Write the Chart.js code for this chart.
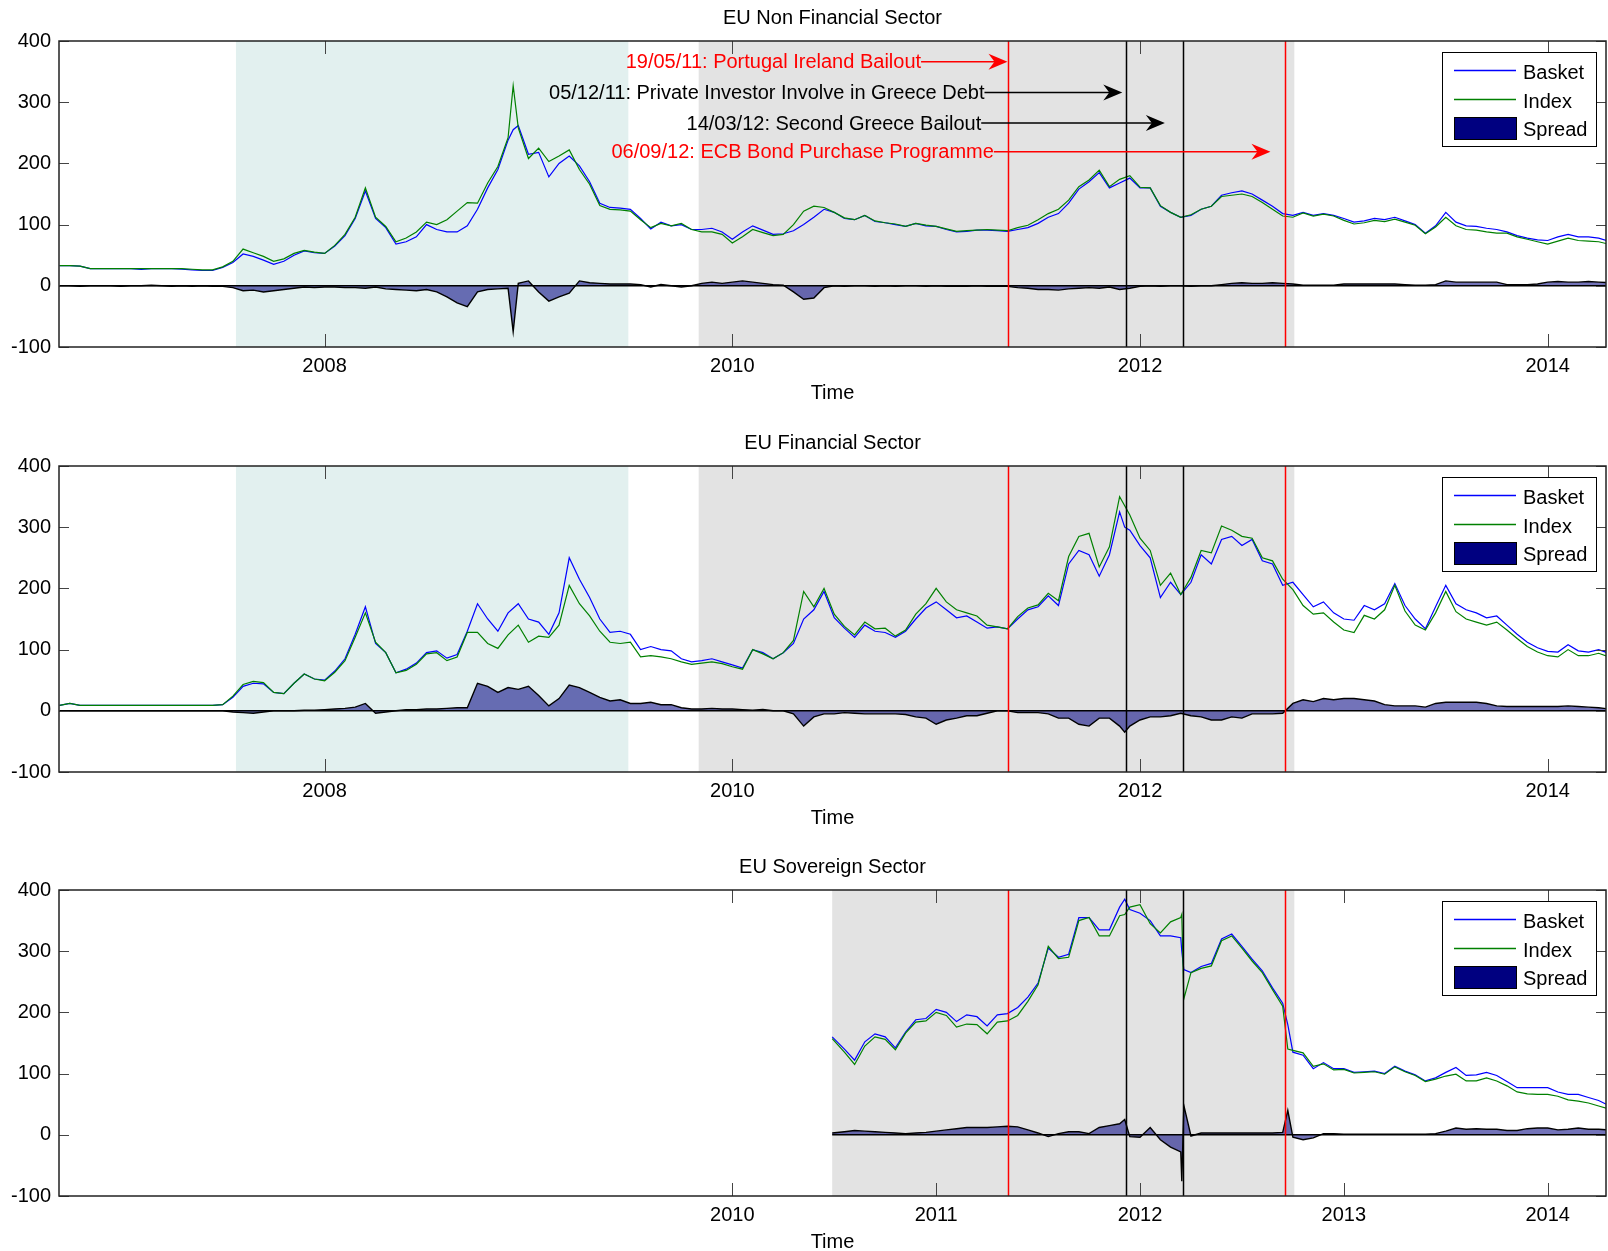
<!DOCTYPE html>
<html>
<head>
<meta charset="utf-8">
<script src="https://cdn.jsdelivr.net/npm/chart.js@4.4.1/dist/chart.umd.min.js"></script>
<style>
html,body{margin:0;padding:0;background:#fff;overflow:hidden;}
body{width:1608px;height:1251px;position:relative;}
.panel{position:absolute;left:0;width:1608px;height:414px;}
</style>
</head>
<body>
<div class="panel" style="top:0"><canvas id="p1" width="1608" height="414"></canvas></div>
<div class="panel" style="top:425px"><canvas id="p2" width="1608" height="414"></canvas></div>
<div class="panel" style="top:849px"><canvas id="p3" width="1608" height="414"></canvas></div>
<script>
// axis settings (decimal years)
var xMin = 2006.697, xMax = 2014.286;
var yTicks = [-100, 0, 100, 200, 300, 400];
var xTicksWide = [2008, 2010, 2012, 2014];
var xTicksSov = [2010, 2011, 2012, 2013, 2014];

// shaded periods and event dates
var crisisPeriod = [2007.565, 2009.49];
var euroPeriod = [2009.835, 2012.757];
var euroPeriodSov = [2010.49, 2012.757];
var eventDates = [2011.35, 2011.93, 2012.21, 2012.71];

// annotations (panel 1)
var noteText = ["19/05/11: Portugal Ireland Bailout", "05/12/11: Private Investor Involve in Greece Debt", "14/03/12: Second Greece Bailout", "06/09/12: ECB Bond Purchase Programme"];
var noteLevel = [366, 316, 266, 219];
var noteTextEnd = [2010.926, 2011.237, 2011.221, 2011.283];
var noteTip = [2011.35, 2011.913, 2012.122, 2012.64];

// ---- EU Non Financial Sector ----
var nfTime = [2006.70,2006.75,2006.80,2006.85,2006.90,2006.95,
2007.00,2007.05,2007.10,2007.15,2007.20,2007.25,2007.30,2007.35,2007.40,2007.45,2007.50,2007.55,2007.60,2007.65,2007.70,2007.75,2007.80,2007.85,2007.90,2007.95,
2008.00,2008.05,2008.10,2008.15,2008.20,2008.25,2008.30,2008.35,2008.40,2008.45,2008.50,2008.55,2008.60,2008.65,2008.70,2008.75,2008.80,2008.85,2008.90,2008.925,2008.95,
2009.00,2009.05,2009.10,2009.15,2009.20,2009.25,2009.30,2009.35,2009.40,2009.45,2009.50,2009.55,2009.60,2009.65,2009.70,2009.75,2009.80,2009.85,2009.90,2009.95,
2010.00,2010.05,2010.10,2010.15,2010.20,2010.25,2010.30,2010.35,2010.40,2010.45,2010.50,2010.55,2010.60,2010.65,2010.70,2010.75,2010.80,2010.85,2010.90,2010.95,
2011.00,2011.05,2011.10,2011.15,2011.20,2011.25,2011.30,2011.35,2011.40,2011.45,2011.50,2011.55,2011.60,2011.65,2011.70,2011.75,2011.80,2011.85,2011.90,2011.95,
2012.00,2012.05,2012.10,2012.15,2012.20,2012.25,2012.30,2012.35,2012.40,2012.45,2012.50,2012.55,2012.60,2012.65,2012.70,2012.75,2012.80,2012.85,2012.90,2012.95,
2013.00,2013.05,2013.10,2013.15,2013.20,2013.25,2013.30,2013.35,2013.40,2013.45,2013.50,2013.55,2013.60,2013.65,2013.70,2013.75,2013.80,2013.85,2013.90,2013.95,
2014.00,2014.05,2014.10,2014.15,2014.20,2014.25,2014.30];
var nfBasket = [33,33,32,28,28,28,
28,28,27,28,28,28,27,26,25,25,30,38,52,48,42,35,40,50,57,54,
53,65,82,110,155,110,95,68,72,80,100,92,88,88,98,125,160,190,238,255,262,
215,218,178,200,212,196,170,135,128,127,125,110,93,104,98,100,92,92,94,88,
76,88,98,91,84,85,90,100,112,125,120,110,108,115,105,103,100,97,102,98,
97,92,88,89,91,91,90,89,92,95,102,112,118,135,158,170,185,160,168,176,
160,160,130,120,112,115,125,130,148,152,155,150,140,130,118,115,120,115,118,115,
110,104,106,110,108,112,106,100,86,98,120,104,98,97,94,92,88,82,78,75,
74,80,84,80,80,78,73];
var nfIndex = [33,33,32,28,28,28,
28,28,28,28,28,28,28,27,26,26,31,40,60,54,48,40,44,53,58,55,
53,66,84,112,160,112,97,72,78,88,104,100,108,122,136,135,168,195,242,327,258,
208,225,203,212,222,190,166,131,125,124,122,108,95,102,98,102,92,88,88,84,
70,80,92,87,82,84,100,122,130,128,120,111,108,115,106,103,101,97,102,99,
97,93,89,90,91,92,91,90,95,99,108,118,125,140,162,173,189,162,174,180,
161,160,131,120,112,116,125,130,146,148,150,146,136,125,114,112,119,114,117,114,
107,101,103,107,105,109,104,99,85,96,112,98,92,91,88,86,86,80,76,72,
68,73,78,74,73,72,68];
var nfSpread = [0,0,-1,0,0,0,
-1,0,0,1,0,-1,0,-1,0,-1,-1,-3,-8,-7,-10,-8,-6,-4,-2,-3,
-2,-2,-3,-3,-4,-2,-5,-6,-7,-8,-6,-10,-18,-28,-34,-10,-6,-5,-4,-75,4,
8,-10,-25,-18,-12,8,5,4,3,3,3,2,-2,2,0,-2,0,4,6,4,
6,8,6,4,2,1,-10,-22,-20,-3,0,-1,0,0,-1,0,-1,0,0,-1,
0,-1,-1,-1,0,-1,-1,-1,-3,-4,-6,-6,-7,-5,-4,-3,-4,-2,-6,-4,
-1,0,-1,0,0,-1,0,0,2,4,5,4,4,5,4,3,1,1,1,1,
3,3,3,3,3,3,2,1,1,2,8,6,6,6,6,6,2,2,2,3,
6,7,6,6,7,6,5];

// ---- EU Financial Sector ----
var finTime = [2006.70,2006.75,2006.80,2006.85,2006.90,2006.95,
2007.00,2007.05,2007.10,2007.15,2007.20,2007.25,2007.30,2007.35,2007.40,2007.45,2007.50,2007.55,2007.60,2007.65,2007.70,2007.75,2007.80,2007.85,2007.90,2007.95,
2008.00,2008.05,2008.10,2008.15,2008.20,2008.25,2008.30,2008.35,2008.40,2008.45,2008.50,2008.55,2008.60,2008.65,2008.70,2008.75,2008.80,2008.85,2008.90,2008.95,
2009.00,2009.05,2009.10,2009.15,2009.20,2009.25,2009.30,2009.35,2009.40,2009.45,2009.50,2009.55,2009.60,2009.65,2009.70,2009.75,2009.80,2009.85,2009.90,2009.95,
2010.00,2010.05,2010.10,2010.15,2010.20,2010.25,2010.30,2010.35,2010.40,2010.45,2010.50,2010.55,2010.60,2010.65,2010.70,2010.75,2010.80,2010.85,2010.90,2010.95,
2011.00,2011.05,2011.10,2011.15,2011.20,2011.25,2011.30,2011.35,2011.40,2011.45,2011.50,2011.55,2011.60,2011.65,2011.70,2011.75,2011.80,2011.85,2011.90,2011.925,2011.95,
2012.00,2012.05,2012.10,2012.15,2012.20,2012.25,2012.30,2012.35,2012.40,2012.45,2012.50,2012.55,2012.60,2012.65,2012.70,2012.75,2012.80,2012.85,2012.90,2012.95,
2013.00,2013.05,2013.10,2013.15,2013.20,2013.25,2013.30,2013.35,2013.40,2013.45,2013.50,2013.55,2013.60,2013.65,2013.70,2013.75,2013.80,2013.85,2013.90,2013.95,
2014.00,2014.05,2014.10,2014.15,2014.20,2014.25,2014.30];
var finBasket = [9,12,9,9,9,9,
9,9,9,9,9,9,9,9,9,9,10,22,40,45,44,30,28,45,60,52,
50,65,85,125,170,110,95,62,68,78,95,98,86,92,130,175,150,130,160,175,
150,145,125,160,250,215,185,150,128,130,125,100,105,100,98,85,80,82,85,80,
75,70,100,95,85,95,110,150,165,195,152,135,120,140,130,128,120,130,150,168,
178,165,152,155,145,135,137,134,150,165,170,188,172,240,262,255,220,255,325,300,295,
270,250,185,210,190,210,255,240,280,285,270,280,245,240,205,210,190,170,178,160,
150,148,172,165,175,208,172,150,134,170,205,175,165,160,152,155,140,125,112,103,
97,96,108,98,96,100,94];
var finIndex = [9,12,9,9,9,9,
9,9,9,9,9,9,9,9,9,9,10,24,43,48,46,30,28,45,60,52,
49,63,82,120,160,112,95,62,66,76,93,95,82,88,128,128,110,102,124,140,
112,122,120,140,205,175,155,130,112,110,112,88,90,88,85,80,76,78,80,77,
72,68,100,93,85,95,115,195,170,200,158,138,124,145,134,135,122,132,158,175,
200,178,165,160,155,140,137,134,154,168,173,192,180,252,285,290,235,268,350,335,320,
282,262,205,225,190,218,262,258,302,295,285,282,250,245,215,198,172,158,160,145,
132,128,156,150,165,205,163,140,132,160,195,162,150,145,140,145,132,118,105,96,
90,88,100,90,90,94,88];
var finSpread = [0,0,0,0,0,0,
0,0,0,0,0,0,0,0,0,0,0,-2,-3,-4,-2,0,0,0,1,1,
2,3,4,6,12,-4,-2,0,2,2,3,3,4,5,5,45,40,30,38,35,
40,25,8,20,42,38,30,22,16,18,12,12,14,10,10,5,3,3,4,3,
3,2,1,2,0,0,-5,-25,-10,-5,-5,-3,-4,-5,-5,-5,-5,-6,-10,-12,
-22,-15,-12,-8,-8,-4,0,0,-3,-3,-3,-5,-12,-12,-22,-25,-12,-12,-25,-35,-25,
-15,-10,-10,-8,-4,-8,-10,-15,-15,-10,-12,-5,-5,-5,-4,12,18,15,20,18,
20,20,18,16,10,8,8,8,6,12,14,14,14,14,12,8,7,7,7,7,
7,7,8,7,6,5,3];

// ---- EU Sovereign Sector ----
var sovTime = [2010.49,2010.55,2010.60,2010.65,2010.70,2010.75,2010.80,2010.85,2010.90,2010.95,
2011.00,2011.05,2011.10,2011.15,2011.20,2011.25,2011.30,2011.35,2011.40,2011.45,2011.50,2011.55,2011.60,2011.65,2011.70,2011.75,2011.80,2011.85,2011.90,2011.925,2011.95,
2012.00,2012.05,2012.10,2012.15,2012.20,2012.205,2012.215,2012.25,2012.30,2012.35,2012.40,2012.45,2012.50,2012.55,2012.60,2012.65,2012.70,2012.725,2012.75,2012.80,2012.85,2012.90,2012.95,
2013.00,2013.05,2013.10,2013.15,2013.20,2013.25,2013.30,2013.35,2013.40,2013.45,2013.50,2013.55,2013.60,2013.65,2013.70,2013.75,2013.80,2013.85,2013.90,2013.95,
2014.00,2014.05,2014.10,2014.15,2014.20,2014.25,2014.30];
var sovBasket = [160,140,122,152,165,160,142,168,188,190,
205,200,185,196,193,178,196,198,208,225,248,305,290,295,355,355,335,335,372,385,368,
362,350,325,325,322,300,270,265,275,280,320,328,308,287,268,240,215,180,135,130,108,118,108,
108,102,103,104,100,112,104,98,88,93,102,110,97,98,102,97,87,77,77,77,
77,70,66,66,61,56,48];
var sovIndex = [157,135,115,145,160,156,139,166,184,186,
200,195,176,181,180,165,184,186,195,218,245,308,288,290,350,355,325,325,358,360,372,
376,345,330,348,355,360,222,265,272,276,317,325,305,284,265,237,210,140,138,134,112,116,106,
107,101,102,103,99,111,103,97,87,91,96,99,88,88,93,88,80,70,67,66,
66,63,57,55,52,47,42];
var sovSpread = [3,5,7,6,5,4,3,2,3,4,
6,8,10,12,12,12,13,14,13,8,3,-3,2,5,5,2,12,15,18,25,-3,
-4,12,-8,-20,-28,-76,48,-2,3,3,3,3,3,3,3,3,4,40,-4,-8,-5,2,2,
1,1,1,1,1,1,1,1,1,2,6,11,9,10,9,9,7,7,10,11,
11,8,9,11,9,9,8];

var TEAL = '#e2f0ef', GREY = '#e3e3e3';

function pts(t, v) {
    return t.map(function (x, i) { return {x: x, y: v[i]}; });
}

function decor(spec) {
    return {
        id: 'decor',
        beforeDatasetsDraw: function (chart) {
            var ctx = chart.ctx, a = chart.chartArea, x = chart.scales.x;
            ctx.save();
            spec.shades.forEach(function (s) {
                var x0 = Math.max(a.left, x.getPixelForValue(s.range[0]));
                var x1 = Math.min(a.right, x.getPixelForValue(s.range[1]));
                ctx.fillStyle = s.color;
                ctx.fillRect(x0, a.top, x1 - x0, a.bottom - a.top);
            });
            ctx.restore();
        },
        afterDatasetsDraw: function (chart) {
            var ctx = chart.ctx, a = chart.chartArea, x = chart.scales.x, y = chart.scales.y;
            ctx.save();
            // event lines
            eventDates.forEach(function (d, i) {
                var px = Math.round(x.getPixelForValue(d)) + 0.5;
                ctx.strokeStyle = (i == 0 || i == 3) ? '#ff0000' : '#000000';
                ctx.lineWidth = 1.5;
                ctx.beginPath(); ctx.moveTo(px, a.top); ctx.lineTo(px, a.bottom); ctx.stroke();
            });
            // inward ticks
            ctx.strokeStyle = '#444'; ctx.lineWidth = 1;
            x.ticks.forEach(function (t) {
                var px = Math.round(x.getPixelForValue(t.value)) + 0.5;
                ctx.beginPath();
                ctx.moveTo(px, a.top); ctx.lineTo(px, a.top + 13);
                ctx.moveTo(px, a.bottom); ctx.lineTo(px, a.bottom - 13);
                ctx.stroke();
            });
            y.ticks.forEach(function (t) {
                var py = Math.round(y.getPixelForValue(t.value)) + 0.5;
                ctx.beginPath();
                ctx.moveTo(a.left, py); ctx.lineTo(a.left + 10, py);
                ctx.moveTo(a.right, py); ctx.lineTo(a.right - 10, py);
                ctx.stroke();
            });
            // box
            ctx.strokeStyle = '#222'; ctx.lineWidth = 1.5;
            ctx.strokeRect(a.left, a.top, a.right - a.left, a.bottom - a.top);

            // annotations with arrows
            if (spec.notes) {
                ctx.font = '20px "Liberation Sans", Arial, sans-serif';
                ctx.textAlign = 'right'; ctx.textBaseline = 'middle';
                noteText.forEach(function (txt, i) {
                    var col = (i == 0 || i == 3) ? '#ff0000' : '#000000';
                    var py = y.getPixelForValue(noteLevel[i]);
                    var xe = x.getPixelForValue(noteTextEnd[i]);
                    var xt = x.getPixelForValue(noteTip[i]);
                    ctx.fillStyle = col; ctx.strokeStyle = col; ctx.lineWidth = 1.5;
                    ctx.fillText(txt, xe, py + 1);
                    ctx.beginPath(); ctx.moveTo(xe, py); ctx.lineTo(xt - 10, py); ctx.stroke();
                    ctx.beginPath();
                    ctx.moveTo(xt, py); ctx.lineTo(xt - 19, py - 8); ctx.lineTo(xt - 13, py);
                    ctx.lineTo(xt - 19, py + 8); ctx.closePath(); ctx.fill();
                });
            }

            // legend box
            var ds = chart.data.datasets;
            var bw = 154, bh = 94, bx = a.right - 10 - bw, by = a.top + 11;
            ctx.fillStyle = '#fff';
            ctx.fillRect(bx, by, bw, bh);
            ctx.strokeStyle = '#000'; ctx.lineWidth = 1;
            ctx.strokeRect(bx + 0.5, by + 0.5, bw, bh);
            ctx.font = '20px "Liberation Sans", Arial, sans-serif';
            ctx.textAlign = 'left'; ctx.textBaseline = 'middle';
            var rows = [18, 47, 76];
            [0, 1].forEach(function (k) {
                ctx.strokeStyle = ds[k].borderColor; ctx.lineWidth = 1.3;
                ctx.beginPath(); ctx.moveTo(bx + 12, by + rows[k] + 0.5); ctx.lineTo(bx + 74, by + rows[k] + 0.5); ctx.stroke();
                ctx.fillStyle = '#000';
                ctx.fillText(ds[k].label, bx + 81, by + rows[k] + 3);
            });
            ctx.fillStyle = '#000080';
            ctx.fillRect(bx + 12, by + 65, 62, 22);
            ctx.strokeStyle = '#000'; ctx.lineWidth = 1;
            ctx.strokeRect(bx + 12.5, by + 65.5, 62, 22);
            ctx.fillStyle = '#000';
            ctx.fillText(ds[2].label, bx + 81, by + rows[2] + 2);
            ctx.restore();
        }
    };
}

function makePanel(id, title, t, basket, index, spread, xTicks, spec) {
    var base = [{x: t[0], y: 0}, {x: t[t.length - 1], y: 0}];
    new Chart(document.getElementById(id), {
        type: 'line',
        data: {
            datasets: [
                {label: 'Basket', data: pts(t, basket), borderColor: '#0000ff', borderWidth: 1.2, pointRadius: 0, fill: false, tension: 0, order: 2},
                {label: 'Index', data: pts(t, index), borderColor: '#008000', borderWidth: 1.2, pointRadius: 0, fill: false, tension: 0, order: 1},
                {label: 'Spread', data: pts(t, spread), borderColor: '#000000', borderWidth: 1.4, backgroundColor: 'rgba(0,0,128,0.55)', pointRadius: 0, fill: 'origin', tension: 0, order: 3},
                {label: 'zero', data: base, borderColor: '#000000', borderWidth: 1.5, pointRadius: 0, fill: false, order: 0}
            ]
        },
        options: {
            responsive: false,
            animation: false,
            layout: {padding: {left: 0, right: 2, top: 0, bottom: 9}},
            plugins: {
                legend: {display: false},
                tooltip: {enabled: false},
                title: {display: true, fullSize: false, text: title, color: '#000', font: {size: 20, weight: 'normal'}, padding: {top: 6, bottom: 11}}
            },
            scales: {
                x: {
                    type: 'linear', min: xMin, max: xMax,
                    afterBuildTicks: function (s) { s.ticks = xTicks.map(function (v) { return {value: v}; }); },
                    afterFit: function (s) { s.height = 58; },
                    grid: {display: false, drawTicks: false},
                    border: {display: false},
                    ticks: {padding: 7, color: '#000', font: {size: 20}, autoSkip: false, maxRotation: 0,
                        callback: function (v) { return String(v); }},
                    title: {display: true, text: 'Time', color: '#000', font: {size: 20}, padding: {top: 0, bottom: 0}}
                },
                y: {
                    min: -100, max: 400,
                    afterBuildTicks: function (s) { s.ticks = yTicks.map(function (v) { return {value: v}; }); },
                    afterFit: function (s) { s.width = 59; },
                    grid: {display: false, drawTicks: false},
                    border: {display: false},
                    ticks: {padding: 8, color: '#000', font: {size: 20}, callback: function (v) { return String(v); }}
                }
            }
        },
        plugins: [decor(spec)]
    });
}

Chart.defaults.font.family = '"Liberation Sans", Arial, sans-serif';

makePanel('p1', 'EU Non Financial Sector', nfTime, nfBasket, nfIndex, nfSpread, xTicksWide,
    {shades: [{range: crisisPeriod, color: TEAL}, {range: euroPeriod, color: GREY}], notes: true});
makePanel('p2', 'EU Financial Sector', finTime, finBasket, finIndex, finSpread, xTicksWide,
    {shades: [{range: crisisPeriod, color: TEAL}, {range: euroPeriod, color: GREY}], notes: false});
makePanel('p3', 'EU Sovereign Sector', sovTime, sovBasket, sovIndex, sovSpread, xTicksSov,
    {shades: [{range: euroPeriodSov, color: GREY}], notes: false});
</script>
</body>
</html>
